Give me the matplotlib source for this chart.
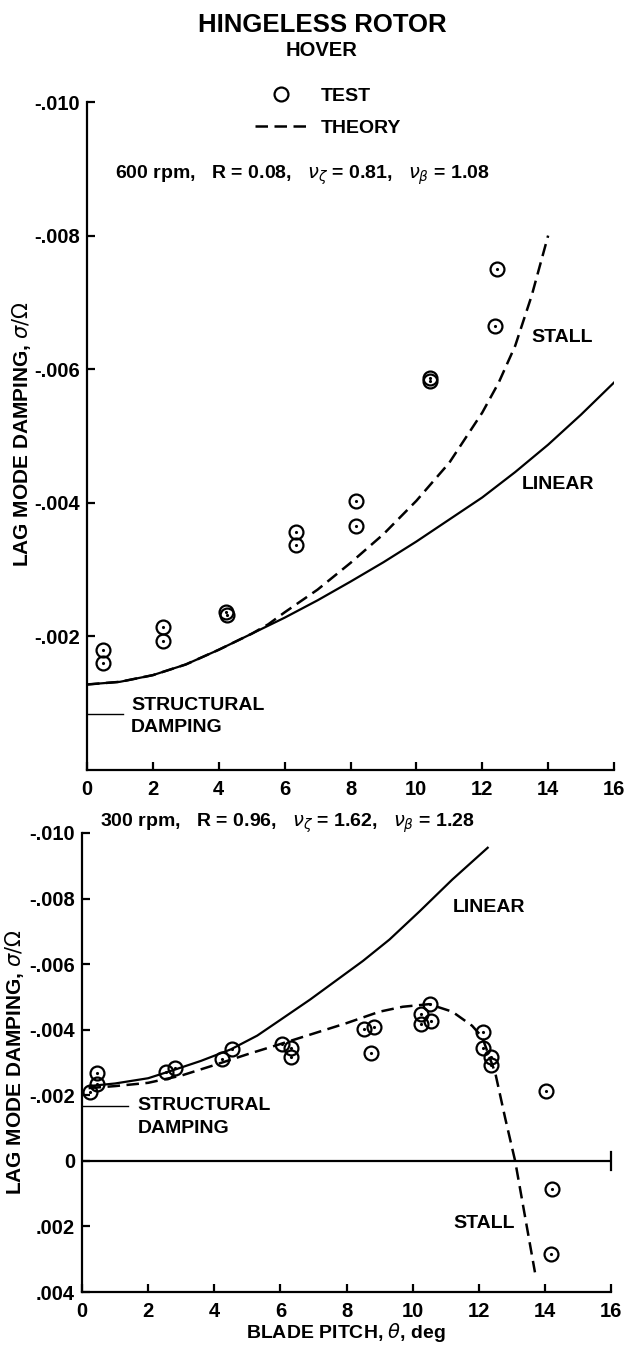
import numpy as np  #Библиотека для работы с массивами
import matplotlib
matplotlib.use("Agg")  #Без дисплея
import matplotlib.pyplot as plt  #Библиотека для построения графиков
from matplotlib.lines import Line2D  #Элементы легенды

plt.rcParams['font.family'] = ['Liberation Sans', 'DejaVu Sans']

#Верхний график: 600 об/мин, опытные точки
top_test_pitch = [0.48, 0.48, 2.32, 2.32, 4.23, 4.26, 6.34, 6.34, 8.16, 8.16, 10.41, 10.41, 12.38, 12.46]
top_test_damping = [-0.00179, -0.00160, -0.00214, -0.00193, -0.00237, -0.00232, -0.00356, -0.00337,
                    -0.00402, -0.00365, -0.00587, -0.00583, -0.00665, -0.00750]

#Верхний график: линейная теория
top_linear_pitch = [0, 1, 2, 3, 4, 5, 6, 7, 8, 9, 10, 11, 12, 13, 14, 15, 16]
top_linear_damping = [-0.00128, -0.00132, -0.00142, -0.00158, -0.00180, -0.00204, -0.00228, -0.00254,
                      -0.00282, -0.00311, -0.00342, -0.00375, -0.00408, -0.00446, -0.00487, -0.00532, -0.00580]

#Верхний график: теория со срывом
top_stall_pitch = [0, 1, 2, 3, 4, 5, 5.5, 6, 7, 8, 9, 10, 11, 12, 12.5, 13, 13.5, 14]
top_stall_damping = [-0.00128, -0.00132, -0.00142, -0.00158, -0.00180, -0.00204, -0.00218, -0.00236,
                     -0.00270, -0.00310, -0.00353, -0.00403, -0.00460, -0.00535, -0.00580, -0.00635,
                     -0.00710, -0.00800]

#Нижний график: 300 об/мин, опытные точки
bot_test_pitch = [0.23, 0.46, 0.46, 2.55, 2.81, 4.24, 4.55, 6.04, 6.33, 6.33, 8.54, 8.83, 8.75,
                  10.26, 10.24, 10.56, 10.54, 12.13, 12.13, 12.38, 12.38, 14.02, 14.23, 14.20]
bot_test_damping = [-0.00210, -0.00234, -0.00267, -0.00270, -0.00283, -0.00310, -0.00340, -0.00356,
                    -0.00344, -0.00316, -0.00401, -0.00409, -0.00330, -0.00448, -0.00418, -0.00428,
                    -0.00478, -0.00394, -0.00345, -0.00316, -0.00293, -0.00213, 0.00087, 0.00284]

#Нижний график: линейная теория
bot_linear_pitch = [0.2, 1.0, 2.0, 2.8, 3.6, 4.5, 5.3, 6.0, 6.9, 7.7, 8.5, 9.3, 10.2, 11.2, 12.27]
bot_linear_damping = [-0.00228, -0.00236, -0.00252, -0.00278, -0.00305, -0.00340, -0.00382, -0.00430,
                      -0.00492, -0.00551, -0.00610, -0.00675, -0.00760, -0.00858, -0.00955]

#Нижний график: теория со срывом
bot_stall_pitch = [0.2, 1.0, 2.0, 3.0, 4.0, 5.0, 5.8, 6.9, 8.0, 9.0, 9.7, 10.5, 11.2, 11.8, 12.1,
                   12.5, 12.8, 13.1, 13.4, 13.7]
bot_stall_damping = [-0.00222, -0.00228, -0.00238, -0.00260, -0.00292, -0.00325, -0.00350, -0.00385,
                     -0.00420, -0.00455, -0.00470, -0.00478, -0.00455, -0.00412, -0.00378, -0.00268,
                     -0.00130, 0.0, 0.00170, 0.00340]

#Конструкционное демпфирование
top_structural = -0.00084
bot_structural = -0.00168

#Подписи делений
x_ticks = [0, 2, 4, 6, 8, 10, 12, 14, 16]
top_y_ticks = [-0.010, -0.008, -0.006, -0.004, -0.002]
top_y_labels = ["-.010", "-.008", "-.006", "-.004", "-.002"]
bot_y_ticks = [-0.010, -0.008, -0.006, -0.004, -0.002, 0.0, 0.002, 0.004]
bot_y_labels = ["-.010", "-.008", "-.006", "-.004", "-.002", "0", ".002", ".004"]

DASH = (0, (5, 2.6))  #Штриховая линия теории
TXT = dict(fontsize=14, fontweight="bold")


#Оформление осей
def style_axes(ax, y_ticks, y_labels, y_lim):
    ax.set_xlim(0, 16)
    ax.set_ylim(*y_lim)  #Ось направлена вниз: отрицательные значения сверху
    ax.spines["top"].set_visible(False)
    ax.spines["right"].set_visible(False)
    for side in ("left", "bottom"):
        ax.spines[side].set_linewidth(1.6)
    ax.set_xticks(x_ticks)
    ax.set_xticklabels([str(t) for t in x_ticks], fontsize=14.5, fontweight="bold")
    ax.set_yticks(y_ticks)
    ax.set_yticklabels(y_labels, fontsize=14.5, fontweight="bold")
    ax.tick_params(axis="both", direction="in", length=6, width=1.6)
    ax.tick_params(axis="x", pad=7)
    ax.tick_params(axis="y", pad=5)


#Опытные точки: кружок с точкой в центре
def plot_test(ax, x, y):
    ax.plot(x, y, "o", ms=10, mfc="none", mec="black", mew=1.6, clip_on=False)
    ax.plot(x, y, ".", ms=2.5, color="black", clip_on=False)


fig = plt.figure(figsize=(6.26, 13.47), dpi=100)
ax1 = fig.add_axes([87 / 626, 1 - 770 / 1347, 527 / 626, 668 / 1347])
ax2 = fig.add_axes([82 / 626, 1 - 1292 / 1347, 529 / 626, 459 / 1347])

#Верхний график
style_axes(ax1, top_y_ticks, top_y_labels, (0, -0.010))
ax1.plot(top_linear_pitch, top_linear_damping, color="black", lw=1.6)
ax1.plot(top_stall_pitch, top_stall_damping, color="black", lw=1.8, linestyle=DASH)
plot_test(ax1, top_test_pitch, top_test_damping)
ax1.plot([0, 1.1], [top_structural, top_structural], color="black", lw=1.0)
ax1.text(1.34, -0.00097, "STRUCTURAL", va="center", **TXT)
ax1.text(1.34, -0.00063, "DAMPING", va="center", **TXT)
ax1.text(13.5, -0.00648, "STALL", va="center", **TXT)
ax1.text(13.2, -0.00427, "LINEAR", va="center", **TXT)
ax1.text(0.85, -0.0089, r"600 rpm,   R = 0.08,   $\nu_\zeta$ = 0.81,   $\nu_\beta$ = 1.08",
         va="center", fontsize=14, fontweight="bold")

#Нижний график
style_axes(ax2, bot_y_ticks, bot_y_labels, (0.004, -0.010))
ax2.axhline(0, color="black", lw=1.6)
ax2.plot([16, 16], [-0.00027, 0.00027], color="black", lw=1.6, clip_on=False)
ax2.plot(bot_linear_pitch, bot_linear_damping, color="black", lw=1.6)
ax2.plot(bot_stall_pitch, bot_stall_damping, color="black", lw=1.8, linestyle=DASH)
plot_test(ax2, bot_test_pitch, bot_test_damping)
ax2.plot([0, 1.38], [bot_structural, bot_structural], color="black", lw=1.0)
ax2.text(1.68, -0.0017, "STRUCTURAL", va="center", **TXT)
ax2.text(1.68, -0.00099, "DAMPING", va="center", **TXT)
ax2.text(11.22, -0.00774, "LINEAR", va="center", **TXT)
ax2.text(11.22, 0.00192, "STALL", va="center", **TXT)
ax2.text(0.54, -0.0103, r"300 rpm,   R = 0.96,   $\nu_\zeta$ = 1.62,   $\nu_\beta$ = 1.28",
         va="center", fontsize=14, fontweight="bold")

#Подписи осей
ylabel = r"LAG MODE DAMPING, $\sigma/\Omega$"
fig.text(22 / 626, 1 - 434 / 1347, ylabel, rotation=90, ha="center", va="center", fontsize=15, fontweight="bold")
fig.text(15 / 626, 1 - 1062 / 1347, ylabel, rotation=90, ha="center", va="center", fontsize=15, fontweight="bold")
fig.text(346 / 626, 1 - 1333 / 1347, r"BLADE PITCH, $\theta$, deg", ha="center", va="center",
         fontsize=14, fontweight="bold")

#Заголовок
fig.text(322 / 626, 1 - 25 / 1347, "HINGELESS ROTOR", ha="center", va="center", fontsize=18.5, fontweight="bold")
fig.text(322 / 626, 1 - 50 / 1347, "HOVER", ha="center", va="center", fontsize=14.5, fontweight="bold")

#Легенда
handles = [Line2D([], [], marker="o", ls="none", ms=10, mfc="none", mec="black", mew=1.6),
           Line2D([], [], color="black", lw=1.8, linestyle=DASH)]
fig.legend(handles, ["TEST", "THEORY"], loc="upper left", bbox_to_anchor=(255 / 626, 1 - 87 / 1347),
           frameon=False, prop=dict(size=14, weight="bold"), handlelength=2.7, handletextpad=0.7,
           labelspacing=0.75, borderpad=0, borderaxespad=0)

fig.savefig("out.png", dpi=100)
